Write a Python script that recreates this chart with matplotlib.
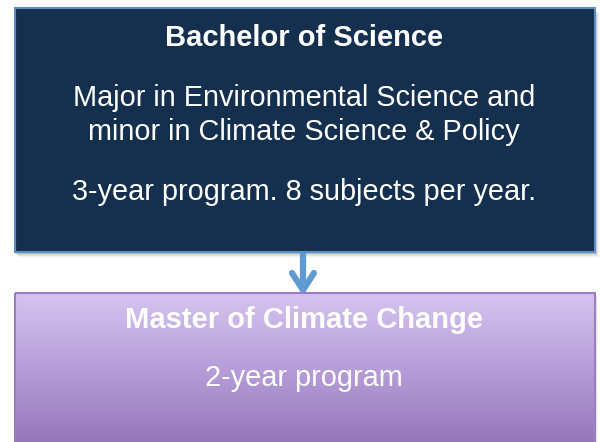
import numpy as np
import matplotlib.pyplot as plt
from matplotlib.patches import Rectangle
from matplotlib.colors import LinearSegmentedColormap

plt.rcParams['font.family'] = ['Liberation Sans', 'DejaVu Sans']

# box contents
top_title = "Bachelor of Science"
top_lines = ["Major in Environmental Science and",
             "minor in Climate Science & Policy",
             "3-year program. 8 subjects per year."]
bottom_title = "Master of Climate Change"
bottom_lines = ["2-year program"]

fig = plt.figure(figsize=(6, 4.42), dpi=100)
ax = fig.add_axes([0, 0, 1, 1])
ax.set_xlim(0, 600)
ax.set_ylim(442, 0)
ax.axis('off')

# soft shadow under top box
for i, a in enumerate([0.10, 0.07, 0.05, 0.03, 0.02]):
    ax.add_patch(Rectangle((15 + i, 10 + i), 581, 244, facecolor='black',
                           edgecolor='none', alpha=a, zorder=1))

# top box
ax.add_patch(Rectangle((15, 8), 580, 244, facecolor='#14304e',
                       edgecolor='#5b8fc5', linewidth=1.5, zorder=2))
ax.text(304, 46, top_title, color='white', fontsize=21, fontweight='bold',
        ha='center', va='baseline', zorder=3)
ys = [106, 140, 200]
for y, s in zip(ys, top_lines):
    ax.text(304, y, s, color='white', fontsize=20.8, ha='center',
            va='baseline', zorder=3)

# arrow: shaft plus chevron head
ax.plot([303, 303], [253, 289], color='#5f9ad1', linewidth=4.5,
        solid_capstyle='butt', zorder=2)
ax.plot([292, 303, 314], [273, 290, 273], color='#5f9ad1', linewidth=4.5,
        solid_capstyle='round', solid_joinstyle='miter', zorder=2)

# bottom box shadow
for i, a in enumerate([0.10, 0.06, 0.03]):
    ax.add_patch(Rectangle((15 + i, 295 + i), 581, 160, facecolor='black',
                           edgecolor='none', alpha=a, zorder=1))

# bottom box with vertical gradient
cmap = LinearSegmentedColormap.from_list('purp', ['#d5c3ef', '#b79fda', '#9677ba'])
grad = np.linspace(0, 1, 256).reshape(-1, 1)
ax.imshow(grad, cmap=cmap, extent=(15, 595, 442, 293), aspect='auto', zorder=2)
ax.add_patch(Rectangle((15, 293), 580, 160, facecolor='none',
                       edgecolor='#9a7fc0', linewidth=1.5, zorder=3))
ax.text(304, 328, bottom_title, color='white', fontsize=21, fontweight='bold',
        ha='center', va='baseline', zorder=4)
ax.text(304, 386, bottom_lines[0], color='white', fontsize=20.8, ha='center',
        va='baseline', zorder=4)

ax.set_xlim(0, 600)
ax.set_ylim(442, 0)
fig.savefig('out.png', dpi=100)
